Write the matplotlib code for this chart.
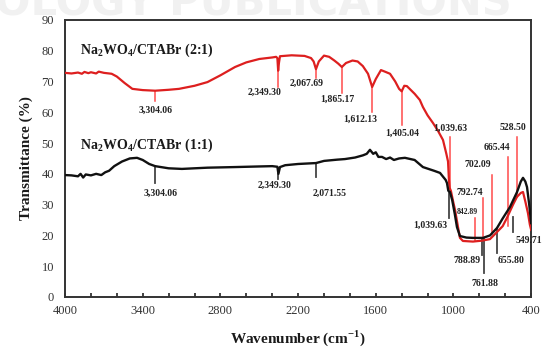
"""
FTIR spectra of Na2WO4/CTABr samples (2:1 and 1:1), transmittance vs wavenumber.
"""
import numpy as np
import matplotlib
matplotlib.use('Agg')
import matplotlib.pyplot as plt
from matplotlib.ticker import MultipleLocator

# ---- data ----
wn_21 = [4000, 3950, 3900, 3870, 3850, 3820, 3800, 3760, 3740, 3700, 3640, 3600,
         3540, 3480, 3400, 3304, 3200, 3120, 3000, 2900, 2800, 2687, 2600, 2500,
         2400, 2370, 2360, 2354, 2348, 2340, 2250, 2150, 2100, 2080, 2062, 2040,
         2000, 1960, 1920, 1890, 1862, 1830, 1780, 1740, 1700, 1660, 1645, 1628,
         1600, 1560, 1530, 1490, 1450, 1420, 1400, 1380, 1360, 1300, 1260, 1236,
         1200, 1158, 1120, 1081, 1055, 1042, 1035, 1030, 1020, 1000, 988, 960,
         950, 927, 850, 780, 718, 664, 620, 587, 540, 510, 480, 463, 445, 425,
         410, 400]
tr_21 = [72.8, 72.6, 72.9, 72.5, 73.1, 72.7, 73.0, 72.6, 73.2, 72.8, 72.5, 71.6,
         69.5, 67.6, 67.2, 67.0, 67.3, 67.6, 68.6, 69.8, 72.0, 74.7, 76.2, 77.3,
         77.8, 78.0, 77.6, 73.5, 76.0, 78.2, 78.5, 78.3, 77.6, 76.5, 74.0, 76.5,
         78.4, 78.0, 76.8, 75.8, 74.7, 76.0, 76.8, 76.5, 75.0, 72.5, 70.5, 68.2,
         70.8, 73.7, 73.2, 72.5, 70.0, 67.6, 66.8, 68.6, 68.5, 66.0, 64.0, 61.7,
         59.0, 56.5, 54.0, 51.0, 46.5, 44.0, 38.0, 35.5, 34.5, 30.5, 28.3, 21.5,
         19.2, 18.2, 18.0, 18.3, 18.8, 21.1, 23.0, 25.7, 30.0, 32.5, 33.8, 34.1,
         31.0, 27.3, 23.5, 21.8]

wn_11 = [4000, 3950, 3900, 3880, 3860, 3840, 3800, 3760, 3720, 3690, 3660, 3620,
         3560, 3500, 3444, 3400, 3350, 3304, 3200, 3097, 3000, 2900, 2687, 2500,
         2400, 2360, 2352, 2340, 2300, 2200, 2062, 2000, 1900, 1838, 1760, 1700,
         1670, 1645, 1620, 1600, 1580, 1552, 1520, 1490, 1460, 1420, 1375, 1300,
         1236, 1150, 1104, 1060, 1050, 1040, 1027, 1010, 990, 973, 950, 900,
         850, 772, 718, 664, 620, 564, 510, 480, 463, 445, 432, 415, 400]
tr_11 = [39.6, 39.5, 39.2, 40.0, 38.8, 39.8, 39.5, 40.0, 39.6, 40.5, 41.0, 42.5,
         44.0, 45.0, 45.2, 44.5, 43.2, 42.5, 41.8, 41.6, 41.8, 42.0, 42.2, 42.4,
         42.5, 42.3, 40.0, 42.2, 42.8, 43.2, 43.5, 44.2, 44.6, 44.8, 45.3, 46.0,
         46.5, 47.8, 46.5, 47.0, 45.5, 45.5, 44.8, 45.3, 44.5, 45.0, 45.2, 44.5,
         42.2, 41.0, 40.3, 38.0, 37.0, 34.5, 34.1, 31.5, 27.0, 22.7, 19.8, 19.3,
         19.2, 19.2, 20.0, 22.4, 25.5, 29.2, 34.0, 37.5, 38.7, 37.5, 35.7, 30.0,
         24.0]

# peak labels and the wavenumber where each marker line is drawn
red_labels = ['3,304.06', '2,349.30', '2,067.69', '1,865.17', '1,612.13', '1,405.04',
              '1,039.63', '842.89', '792.74', '702.09', '665.44', '528.50']
red_marks = [3304, 2352, 2062, 1862, 1628, 1400, 1030, 834, 772, 703, 579, 510]
blk_labels = ['3,304.06', '2,349.30', '2,071.55', '1,039.63', '788.89', '761.88',
              '655.80', '549.71']
blk_marks = [3304, 2352, 2062, 1035, 780, 764, 664, 541]

# layout of the marker lines: (line top, line bottom, label x, label y, ha, size)
red_layout = [(67.0, 63.5, 3304, 60.6, 'center', 7),
              (73.5, 68.2, 2456, 66.5, 'center', 7),
              (74.0, 71.0, 2131, 69.3, 'center', 7),
              (74.7, 66.3, 1900, 64.3, 'center', 7),
              (68.2, 60.0, 1722, 57.8, 'center', 7),
              (66.8, 56.0, 1398, 53.3, 'center', 7),
              (52.0, 35.0, 1027, 54.9, 'center', 7),
              (25.7, 18.3, 896, 27.6, 'center', 5.5),
              (32.2, 18.3, 873, 34.1, 'center', 7),
              (39.6, 20.5, 811, 42.9, 'center', 7),
              (45.5, 23.0, 664, 48.4, 'center', 7),
              (52.0, 32.5, 541, 54.9, 'center', 7)]
blk_layout = [(42.5, 37.0, 3266, 33.8, 'center', 7),
              (40.0, 38.3, 2378, 36.4, 'center', 7),
              (43.5, 39.0, 1954, 33.8, 'center', 7),
              (34.0, 25.7, 1181, 23.4, 'center', 7),
              (19.2, 13.6, 792, 12.0, 'right', 7),
              (19.2, 7.8, 757, 4.5, 'center', 7),
              (22.4, 14.3, 656, 12.0, 'left', 7),
              (26.0, 21.0, 520, 18.5, 'left', 7)]

plt.rcParams['font.family'] = 'Liberation Serif'
plt.rcParams['mathtext.fontset'] = 'custom'
plt.rcParams['mathtext.rm'] = 'Liberation Serif'
plt.rcParams['mathtext.bf'] = 'Liberation Serif:bold'

fig = plt.figure(figsize=(5.42, 3.49), dpi=100)
ax = fig.add_axes([0.120, 0.149, 0.860, 0.794])

# faint publisher watermark along the top edge
fig.text(-0.01, 1 - 15 / 349, 'OLOGY PUBLICATIONS', fontsize=30, fontweight='bold',
         family='DejaVu Sans', color='#f1f1f1', va='baseline', ha='left', zorder=0)

red = '#dd1f1f'
red_mark = '#ff4a4a'
ax.plot(wn_21, tr_21, color=red, lw=1.6, zorder=3)
ax.plot(wn_11, tr_11, color='#111111', lw=1.7, zorder=4)

for lab, x, (top, bot, lx, ly, ha, fs) in zip(red_labels, red_marks, red_layout):
    ax.plot([x, x], [top, bot], color=red_mark, lw=1.1, zorder=2)
    ax.text(lx, ly, lab, fontsize=fs, fontweight='bold', color='#222222',
            ha=ha, va='center')
for lab, x, (top, bot, lx, ly, ha, fs) in zip(blk_labels, blk_marks, blk_layout):
    ax.plot([x, x], [top, bot], color='#444444', lw=1.3, zorder=2)
    ax.text(lx, ly, lab, fontsize=fs, fontweight='bold', color='#222222',
            ha=ha, va='center')

ax.text(3884, 80.2, r'Na$_{\mathbf{2}}$WO$_{\mathbf{4}}$/CTABr (2:1)', fontsize=10,
        fontweight='bold', color='#1a1a1a', ha='left', va='center')
ax.text(3884, 49.4, r'Na$_{\mathbf{2}}$WO$_{\mathbf{4}}$/CTABr (1:1)', fontsize=10,
        fontweight='bold', color='#1a1a1a', ha='left', va='center')

ax.set_xlim(4000, 400)
ax.set_ylim(0, 90)
ax.set_xticks(np.arange(4000, 399, -600))
ax.xaxis.set_minor_locator(MultipleLocator(200))
ax.set_yticks(np.arange(0, 91, 10))
ax.tick_params(axis='x', which='both', direction='in', length=3, width=1.2,
               colors='#222222', labelcolor='#333333', labelsize=9, pad=6)
ax.tick_params(axis='y', length=0, labelcolor='#333333', labelsize=9, pad=8)
for s in ax.spines.values():
    s.set_linewidth(1.4)
    s.set_color('#333333')

ax.set_xlabel(r'Wavenumber (cm$^{\mathbf{-1}}$)', fontsize=11, fontweight='bold',
              color='#1a1a1a', labelpad=8)
ax.set_ylabel('Transmittance (%)', fontsize=11, fontweight='bold',
              color='#1a1a1a', labelpad=6)

fig.savefig('out.png', dpi=100)
